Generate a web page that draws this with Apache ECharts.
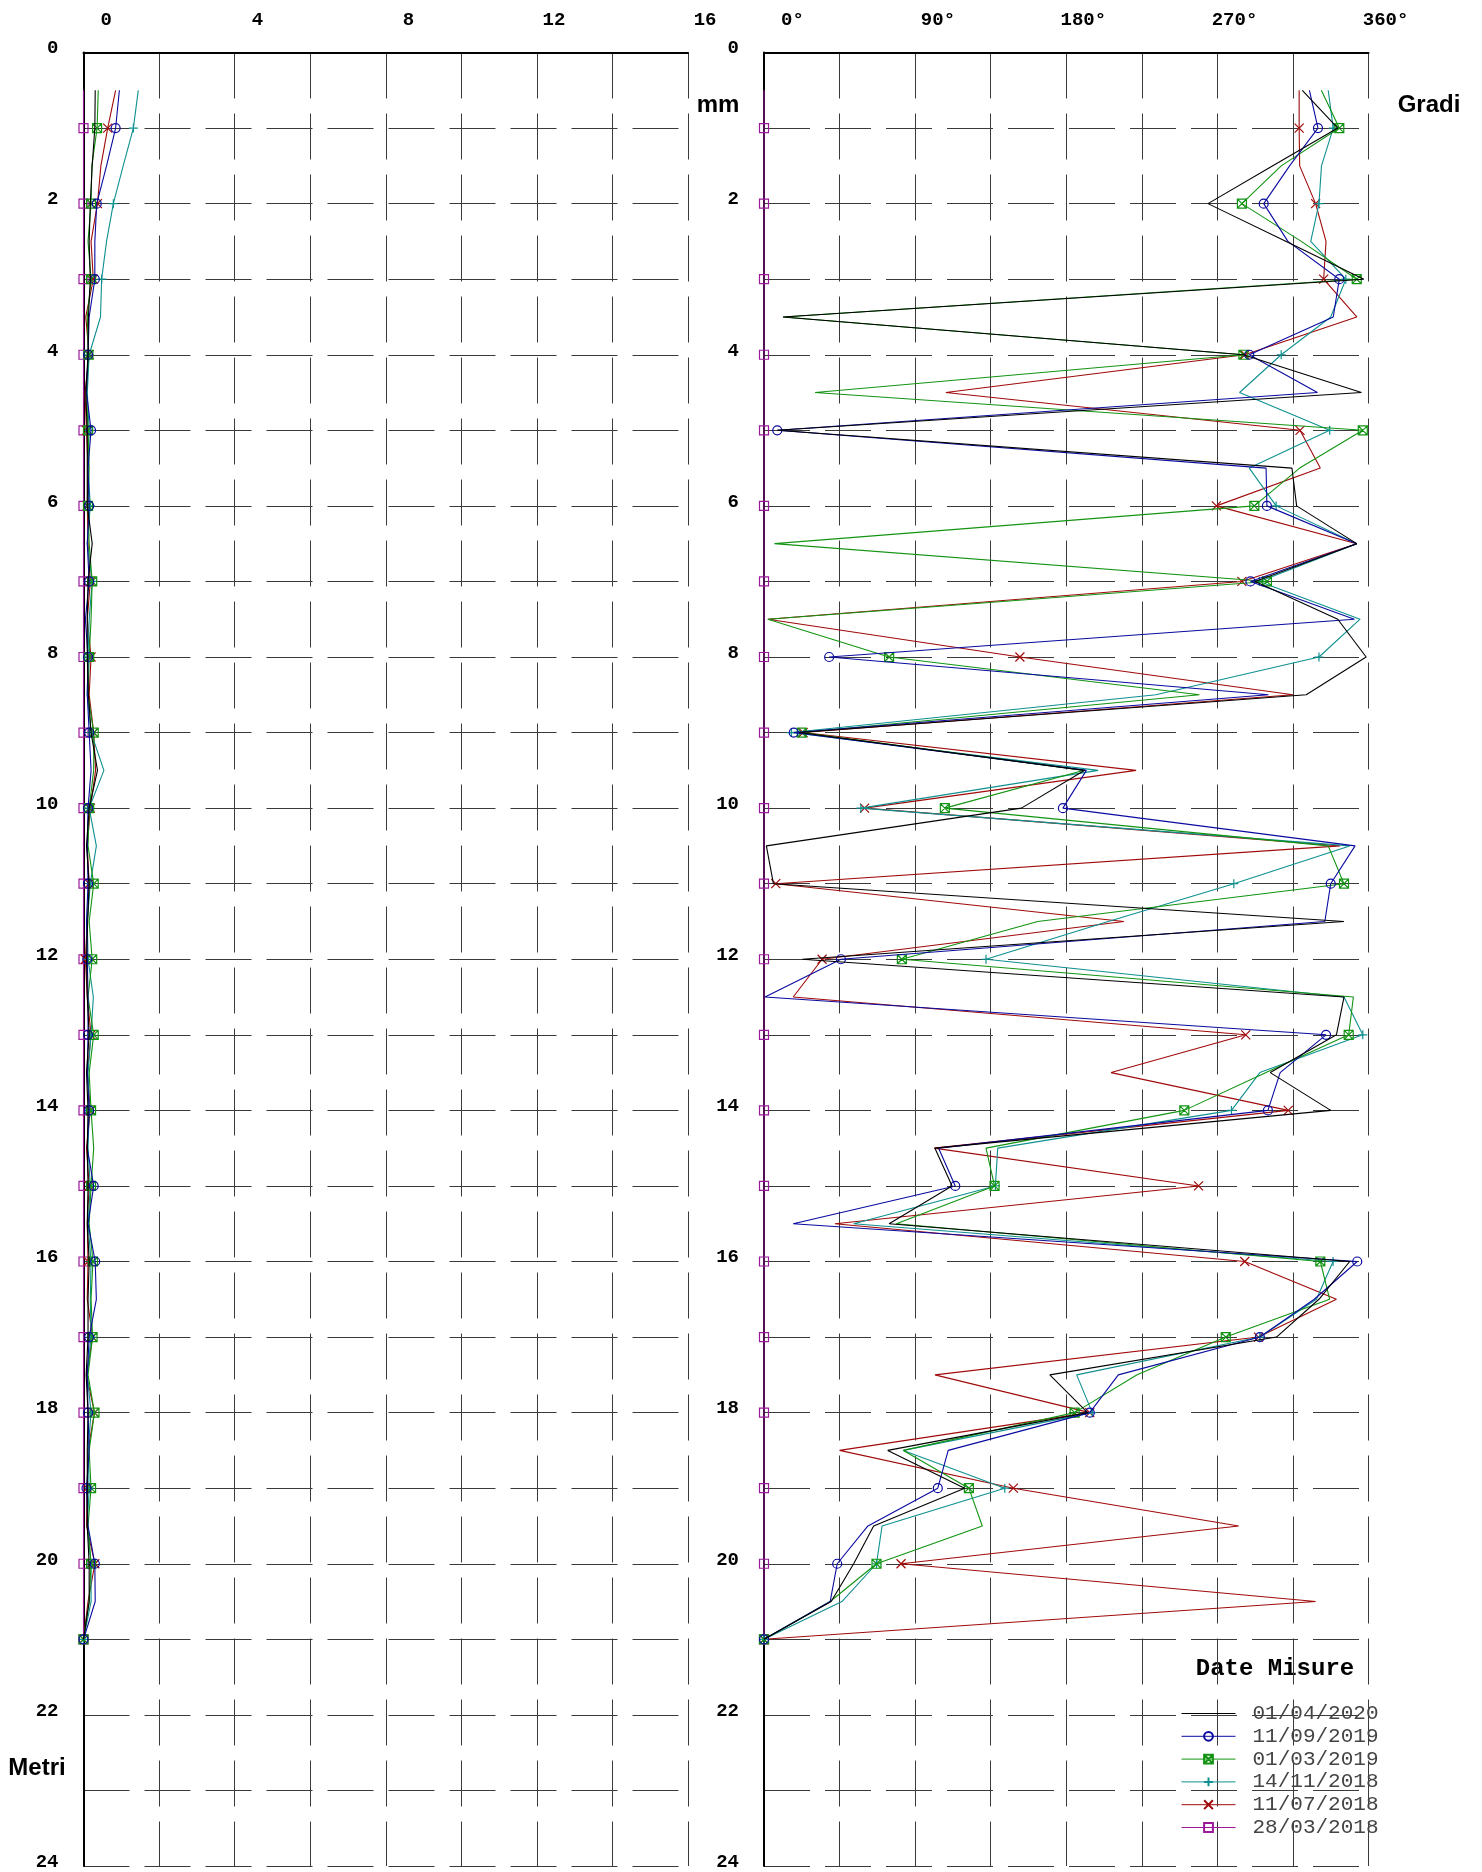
<!DOCTYPE html>
<html>
<head>
<meta charset="utf-8">
<script src="https://cdn.jsdelivr.net/npm/echarts@6/dist/echarts.min.js"></script>
<style>html,body{margin:0;padding:0;background:#fff}#c{width:1482px;height:1872px}</style>
</head>
<body>
<div id="c"></div>
<script>
// depth of each reading (m)
const depths = [0.5,1,1.5,2,2.5,3,3.5,4,4.5,5,5.5,6,6.5,7,7.5,8,8.5,9,9.5,10,10.5,11,11.5,12,12.5,13,13.5,14,14.5,15,15.5,16,16.5,17,17.5,18,18.5,19,19.5,20,20.5,21];
const seriesNames = ['01/04/2020','11/09/2019','01/03/2019','14/11/2018','11/07/2018','28/03/2018'];
const xTicksMm = [0,4,8,12,16];
const xTicksDeg = [0,90,180,270,360];

// displacement (mm)
const disp_20200401 = [0.31,0.30,0.23,0.18,0.15,0.18,0.13,0.12,0.06,0.10,0.10,0.10,0.23,0.12,0.10,0.10,0.13,0.20,0.37,0.15,0.08,0.15,0.11,0.08,0.10,0.15,0.08,0.12,0.10,0.12,0.10,0.15,0.12,0.12,0.07,0.12,0.10,0.10,0.10,0.15,0.15,0];
const disp_20190911 = [0.95,0.85,0.61,0.35,0.30,0.30,0.15,0.12,0.08,0.20,0.12,0.15,0.10,0.15,0.05,0.12,0.10,0.15,0.20,0.12,0.10,0.12,0.08,0.10,0.12,0.12,0.10,0.15,0.10,0.27,0.12,0.31,0.34,0.15,0.10,0.12,0.15,0.08,0.12,0.30,0.31,0];
const disp_20190301 = [0.39,0.36,0.22,0.20,0.12,0.20,0.10,0.13,0.08,0.12,0.15,0.12,0.15,0.23,0.20,0.15,0.12,0.27,0.27,0.15,0.12,0.27,0.15,0.23,0.12,0.27,0.15,0.20,0.27,0.20,0.15,0.25,0.20,0.24,0.12,0.29,0.15,0.20,0.12,0.20,0.15,0];
const disp_20181114 = [1.45,1.32,1.05,0.79,0.61,0.48,0.45,0.15,0.10,0.15,0.12,0.18,0.10,0.23,0.15,0.12,0.10,0.20,0.54,0.15,0.34,0.18,0.10,0.12,0.26,0.20,0.12,0.15,0.12,0.18,0.12,0.20,0.18,0.20,0.10,0.20,0.12,0.15,0.10,0.20,0.20,0];
const disp_20180711 = [0.85,0.64,0.46,0.37,0.20,0.26,0.06,0.15,0.04,0.08,0.12,0.10,0.12,0.18,0.10,0.20,0.15,0.27,0.32,0.18,0.10,0.15,0.10,0.05,0.10,0.20,0.10,0.18,0.08,0.15,0.10,0.12,0.10,0.24,0.08,0.29,0.12,0.10,0.08,0.30,0.12,0];
const disp_20180328 = [0,0,0,0,0,0,0,0,0,0,0,0,0,0,0,0,0,0,0,0,0,0,0,0,0,0,0,0,0,0,0,0,0,0,0,0,0,0,0,0,0,0];

// direction (degrees)
const dir_20200401 = [320.6,341.7,303,264.4,311,357.2,11.3,285.5,355.8,7.9,314.4,317.2,353,292.5,341.7,358.6,322.9,21,191,153.3,1.4,5.6,345.4,22.8,345.4,340.9,301.5,337.5,101.8,112,74.5,348.8,330.5,305.2,170.2,192.7,73.7,119.5,65.3,53.4,40,0];
const dir_20190911 = [324.8,329.9,313,297.6,312,342.6,339,289,329.6,7.9,299,299.5,353,289.7,351.6,38.8,300.4,17.7,192,178,352,337.5,334,45.8,0.6,334.7,307.4,300.1,104,113.9,17.4,353.3,327.7,295.3,211,194,109.7,103.5,61.9,43.6,39.4,0];
const dir_20190301 = [331.9,342.6,308,284.6,320,353,11.3,285.5,30.4,356.6,319,292,6.2,299.5,2.3,74.5,259.3,22.5,190.7,107.7,336,345.4,163,82.1,351,348.2,299,250.3,132.2,137.3,78.8,331.3,336.9,275,222.2,185,83,122,130,67,39.4,0];
const dir_20181114 = [336,339,332,330.5,325.6,346.5,337.5,308,283.2,336.9,289,305,353,295,355,330.5,233.4,16.3,199,57.7,348.8,279.8,205,132.2,345.4,356.6,295.3,278.4,139.2,137.8,53.4,338.9,329,295.3,186.2,195.5,83,143.4,70.3,67,46.4,0];
const dir_20180711 = [318.7,318.7,319,328.5,334.7,333.3,353,286.3,108.3,319.2,331.3,269.4,353,284.6,2.3,152.4,315,23.3,221.6,59.9,343,7,214.3,34.6,17.4,286.9,206.7,312.2,101.3,258.8,42.2,286.3,340.9,294.5,101.8,194,45,148.5,282.7,81.6,328.5,0];
const dir_20180328 = [0,0,0,0,0,0,0,0,0,0,0,0,0,0,0,0,0,0,0,0,0,0,0,0,0,0,0,0,0,0,0,0,0,0,0,0,0,0,0,0,0,0];

const dispSets = [disp_20200401, disp_20190911, disp_20190301, disp_20181114, disp_20180711, disp_20180328];
const dirSets = [dir_20200401, dir_20190911, dir_20190301, dir_20181114, dir_20180711, dir_20180328];

const colors = ['#000000','#0a0aa0','#129412','#0f9090','#a00a0a','#9a1a9a'];
const symbols = [
  'circle',
  'circle',
  'path://M0,0H10V10H0Z M0,0L10,10 M10,0L0,10',
  'path://M5,0V10 M0,5H10',
  'path://M0,0L10,10 M10,0L0,10',
  'rect'
];

const MONO = "'Liberation Mono','DejaVu Sans Mono',monospace";
const SANS = "'Liberation Sans',Arial,sans-serif";
const gridLine = {show:true, lineStyle:{color:'#3a3a3a', width:1, type:[46,15]}};

function makeSeries(k, xs, gi) {
  const c = colors[k];
  const isBlack = k === 0;
  return {
    name: seriesNames[k],
    type: 'line',
    xAxisIndex: gi, yAxisIndex: gi,
    data: depths.map((d, i) => [xs[i], d]),
    symbol: symbols[k],
    symbolSize: isBlack ? 0 : function (v) { return (v[1] % 1 === 0) ? 9 : 0; },
    showSymbol: true,
    showAllSymbol: true,
    clip: false,
    z: 10 + (6 - k),
    lineStyle: {color: c, width: 1.1},
    itemStyle: {color: 'rgba(255,255,255,0)', borderColor: isBlack ? 'rgba(0,0,0,0)' : c, borderWidth: isBlack ? 0 : 1.2},
    emphasis: {disabled: true},
    animation: false
  };
}

const series = [];
for (let k = 5; k >= 0; k--) {
  series.push(makeSeries(k, dispSets[k], 0));
  series.push(makeSeries(k, dirSets[k], 1));
}

function yAxisCfg(gi) {
  return {
    gridIndex: gi, type: 'value', inverse: true, min: 0, max: 24, interval: 1,
    axisLine: {show: true, onZero: false, lineStyle: {color: '#000', width: 2}},
    axisTick: {show: false},
    splitLine: gridLine,
    axisLabel: {
      formatter: v => (v % 2 === 0 ? String(v) : ''),
      fontFamily: MONO, fontWeight: 'bold', fontSize: 19, color: '#000',
      margin: 25, verticalAlign: 'bottom', lineHeight: 8
    }
  };
}

const option = {
  animation: false,
  backgroundColor: '#fff',
  grid: [
    {left: 83.5, top: 52.5, width: 604.5, bottom: 6, outerBoundsMode: 'none', containLabel: false},
    {left: 764, top: 52.5, width: 604.5, bottom: 6, outerBoundsMode: 'none', containLabel: false}
  ],
  xAxis: [
    {
      gridIndex: 0, type: 'value', position: 'top', min: 0, max: 16, interval: 2,
      axisLine: {show: true, onZero: false, lineStyle: {color: '#000', width: 2}},
      axisTick: {show: false},
      splitLine: gridLine,
      axisLabel: {
        formatter: v => (xTicksMm.indexOf(v) >= 0 ? String(v).padStart(5, ' ') : ''),
        fontFamily: MONO, fontWeight: 'bold', fontSize: 19, color: '#000', margin: 23, align: 'center'
      }
    },
    {
      gridIndex: 1, type: 'value', position: 'top', min: 0, max: 360, interval: 45,
      axisLine: {show: true, onZero: false, lineStyle: {color: '#000', width: 2}},
      axisTick: {show: false},
      splitLine: gridLine,
      axisLabel: {
        formatter: v => (xTicksDeg.indexOf(v) >= 0 ? String(v).padStart(6, ' ') + '\u00b0' : ''),
        fontFamily: MONO, fontWeight: 'bold', fontSize: 19, color: '#000', margin: 23, align: 'center'
      }
    }
  ],
  yAxis: [yAxisCfg(0), yAxisCfg(1)],
  legend: {
    orient: 'vertical', left: 1176, top: 1698,
    itemWidth: 54, itemHeight: 11, itemGap: 1.8,
    selectedMode: false,
    data: seriesNames,
    lineStyle: {width: 1},
    textStyle: {fontFamily: MONO, fontSize: 21, color: '#444', lineHeight: 20, padding: [0, 0, 0, 12]}
  },
  graphic: [
    {type: 'text', x: 718, y: 105, style: {text: 'mm', font: "bold 24px " + SANS, fill: '#000', textAlign: 'center', textVerticalAlign: 'middle'}},
    {type: 'text', x: 1429, y: 105, style: {text: 'Gradi', font: "bold 24px " + SANS, fill: '#000', textAlign: 'center', textVerticalAlign: 'middle'}},
    {type: 'text', x: 37, y: 1768, style: {text: 'Metri', font: "bold 24px " + SANS, fill: '#000', textAlign: 'center', textVerticalAlign: 'middle'}},
    {type: 'text', x: 1275, y: 1669, style: {text: 'Date Misure', font: "bold 24px " + MONO, fill: '#000', textAlign: 'center', textVerticalAlign: 'middle'}}
  ],
  series: series
};

const chart = echarts.init(document.getElementById('c'), null, {renderer: 'canvas'});
chart.setOption(option);
</script>
</body>
</html>
